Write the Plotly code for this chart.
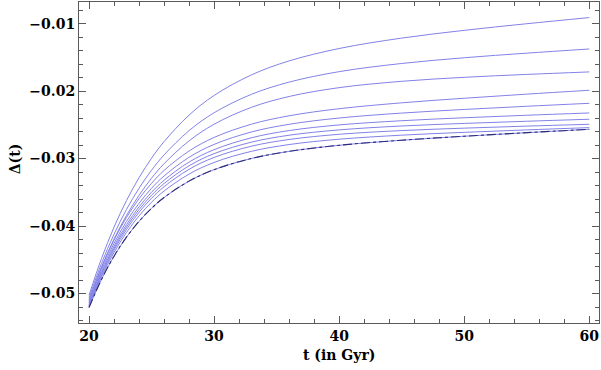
import plotly.graph_objects as go

# time samples (Gyr)
t = [20, 21, 22, 23, 24, 25, 26, 28, 30, 33, 36, 40, 45, 50, 55, 60]

# Delta(t) curves, top to bottom
c1 = [-0.05025, -0.04480, -0.04016, -0.03621, -0.03284, -0.02995, -0.02749, -0.02356, -0.02065, -0.01759, -0.01553, -0.01369, -0.01215, -0.01100, -0.01002, -0.00911]
c2 = [-0.05062, -0.04553, -0.04121, -0.03753, -0.03440, -0.03173, -0.02946, -0.02586, -0.02321, -0.02047, -0.01867, -0.01712, -0.01591, -0.01506, -0.01438, -0.01376]
c3 = [-0.05092, -0.04605, -0.04192, -0.03842, -0.03544, -0.03291, -0.03076, -0.02738, -0.02491, -0.02240, -0.02080, -0.01949, -0.01855, -0.01796, -0.01753, -0.01716]
c4 = [-0.05114, -0.04618, -0.04209, -0.03872, -0.03595, -0.03366, -0.03176, -0.02888, -0.02687, -0.02490, -0.02366, -0.02261, -0.02174, -0.02106, -0.02045, -0.01988]
c5 = [-0.05136, -0.04654, -0.04257, -0.03931, -0.03662, -0.03441, -0.03258, -0.02981, -0.02790, -0.02605, -0.02492, -0.02399, -0.02326, -0.02272, -0.02225, -0.02181]
c6 = [-0.05159, -0.04686, -0.04297, -0.03978, -0.03715, -0.03499, -0.03321, -0.03052, -0.02868, -0.02691, -0.02585, -0.02501, -0.02439, -0.02395, -0.02358, -0.02324]
c7 = [-0.05173, -0.04708, -0.04327, -0.04014, -0.03756, -0.03544, -0.03370, -0.03107, -0.02927, -0.02756, -0.02654, -0.02575, -0.02517, -0.02479, -0.02447, -0.02417]
c8 = [-0.05188, -0.04731, -0.04357, -0.04049, -0.03796, -0.03588, -0.03417, -0.03159, -0.02983, -0.02816, -0.02717, -0.02640, -0.02585, -0.02549, -0.02519, -0.02492]
c9 = [-0.05196, -0.04754, -0.04392, -0.04094, -0.03849, -0.03647, -0.03481, -0.03230, -0.03057, -0.02892, -0.02792, -0.02713, -0.02653, -0.02611, -0.02575, -0.02541]
# limiting curve (drawn blue with a dot-dashed overlay)
limit = [-0.05207, -0.04790, -0.04446, -0.04163, -0.03930, -0.03737, -0.03577, -0.03334, -0.03164, -0.02998, -0.02893, -0.02803, -0.02728, -0.02669, -0.02616, -0.02566]

curves = [c1, c2, c3, c4, c5, c6, c7, c8, c9, limit]

fig = go.Figure()

for c in curves:
    fig.add_trace(go.Scatter(x=t, y=c, mode='lines',
                             line=dict(color='rgb(130,130,232)', width=1, shape='spline'),
                             showlegend=False, hoverinfo='skip'))

fig.add_trace(go.Scatter(x=t, y=limit, mode='lines',
                         line=dict(color='rgb(45,45,115)', width=1.1, dash='dashdot', shape='spline'),
                         showlegend=False, hoverinfo='skip'))

tickfont = dict(family='DejaVu Serif', size=14, color='black', weight='bold')
axcol = '#5a5a5a'

fig.update_layout(
    width=601, height=370,
    margin=dict(l=79, r=2, t=2, b=47),
    plot_bgcolor='white', paper_bgcolor='white',
    xaxis=dict(range=[19.2, 60.78], tickvals=[20, 30, 40, 50, 60],
               ticks='inside', ticklen=7, tickcolor=axcol, tickwidth=1,
               showline=True, linecolor=axcol, linewidth=1, mirror='allticks',
               showgrid=False, zeroline=False, tickfont=tickfont,
               minor=dict(dtick=2, tick0=20, ticks='inside', ticklen=4, tickcolor=axcol, showgrid=False)),
    yaxis=dict(range=[-0.05436, -0.0068], tickvals=[-0.05, -0.04, -0.03, -0.02, -0.01],
               ticktext=['\u22120.05', '\u22120.04', '\u22120.03', '\u22120.02', '\u22120.01'],
               ticks='inside', ticklen=7, tickcolor=axcol, tickwidth=1,
               showline=True, linecolor=axcol, linewidth=1, mirror='allticks',
               showgrid=False, zeroline=False, tickfont=tickfont,
               minor=dict(dtick=0.002, tick0=-0.05, ticks='inside', ticklen=4, tickcolor=axcol, showgrid=False)),
)

# axis labels
fig.add_annotation(text='<b>t (in Gyr)</b>', xref='paper', yref='paper', x=0.5, y=0,
                   yshift=-32, yanchor='middle', showarrow=False,
                   font=dict(family='DejaVu Serif', size=14, color='black'))
fig.add_annotation(text='<b>\u0394(t)</b>', xref='paper', yref='paper', x=0, y=0.51,
                   xshift=-64, xanchor='center', textangle=-90, showarrow=False,
                   font=dict(family='DejaVu Serif', size=14, color='black'))

fig.write_html("out.html", config={'displayModeBar': False},
               post_script="document.body.style.margin='0';")
